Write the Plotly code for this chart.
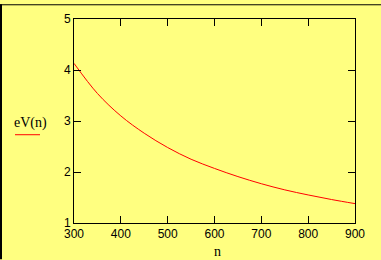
import plotly.graph_objects as go

n_vals = [300, 350, 400, 450, 500, 550, 600, 650, 700, 750, 800, 850, 900]
eV_vals = [4.13, 3.54, 3.10, 2.76, 2.48, 2.25, 2.07, 1.91, 1.77, 1.65, 1.55, 1.46, 1.38]
x_ticks = [300, 400, 500, 600, 700, 800, 900]
y_ticks = [1, 2, 3, 4, 5]

BG = "#FFFF80"
W, H = 381, 260
L, T, R, B = 74, 15, 355, 223
PW, PH = R - L, B - T

def px(x):
    return (x - L) / PW

def py(y):
    return (B - y) / PH

fig = go.Figure()
fig.add_trace(go.Scatter(x=n_vals, y=eV_vals, mode="lines",
                         line=dict(color="#FF0000", width=1), line_shape="spline",
                         showlegend=False, hoverinfo="skip"))

axis_common = dict(showline=True, linecolor="black", linewidth=1, mirror="ticks",
                   ticks="inside", ticklen=7, tickwidth=1, tickcolor="black",
                   showgrid=False, zeroline=False,
                   tickfont=dict(family="Liberation Sans", size=12, color="black"))

fig.update_xaxes(range=[300, 900], tickvals=x_ticks, ticktext=[str(v) for v in x_ticks], **axis_common)
fig.update_yaxes(range=[1, 5], tickvals=y_ticks, ticktext=[str(v) for v in y_ticks], **axis_common)

fig.update_layout(
    width=W, height=H,
    margin=dict(l=L, r=W - R, t=T, b=H - B, pad=0),
    paper_bgcolor=BG, plot_bgcolor=BG,
    annotations=[
        dict(text="eV(n)", xref="paper", yref="paper", x=px(30), y=py(121),
             showarrow=False, xanchor="center", yanchor="middle",
             font=dict(family="Liberation Serif", size=14, color="black")),
        dict(text="n", xref="paper", yref="paper", x=px(217), y=py(252),
             showarrow=False, xanchor="center", yanchor="middle",
             font=dict(family="Liberation Serif", size=14, color="black")),
    ],
    shapes=[
        dict(type="line", xref="paper", yref="paper", x0=px(15), x1=px(40), y0=py(133), y1=py(133),
             line=dict(color="#FF0000", width=1)),
        dict(type="line", xref="paper", yref="paper", x0=px(0), x1=px(W), y0=py(0.5), y1=py(0.5),
             line=dict(color="black", width=1)),
        dict(type="line", xref="paper", yref="paper", x0=px(1), x1=px(1), y0=py(0), y1=py(H),
             line=dict(color="black", width=2)),
    ],
)

fig.write_html("out.html")
